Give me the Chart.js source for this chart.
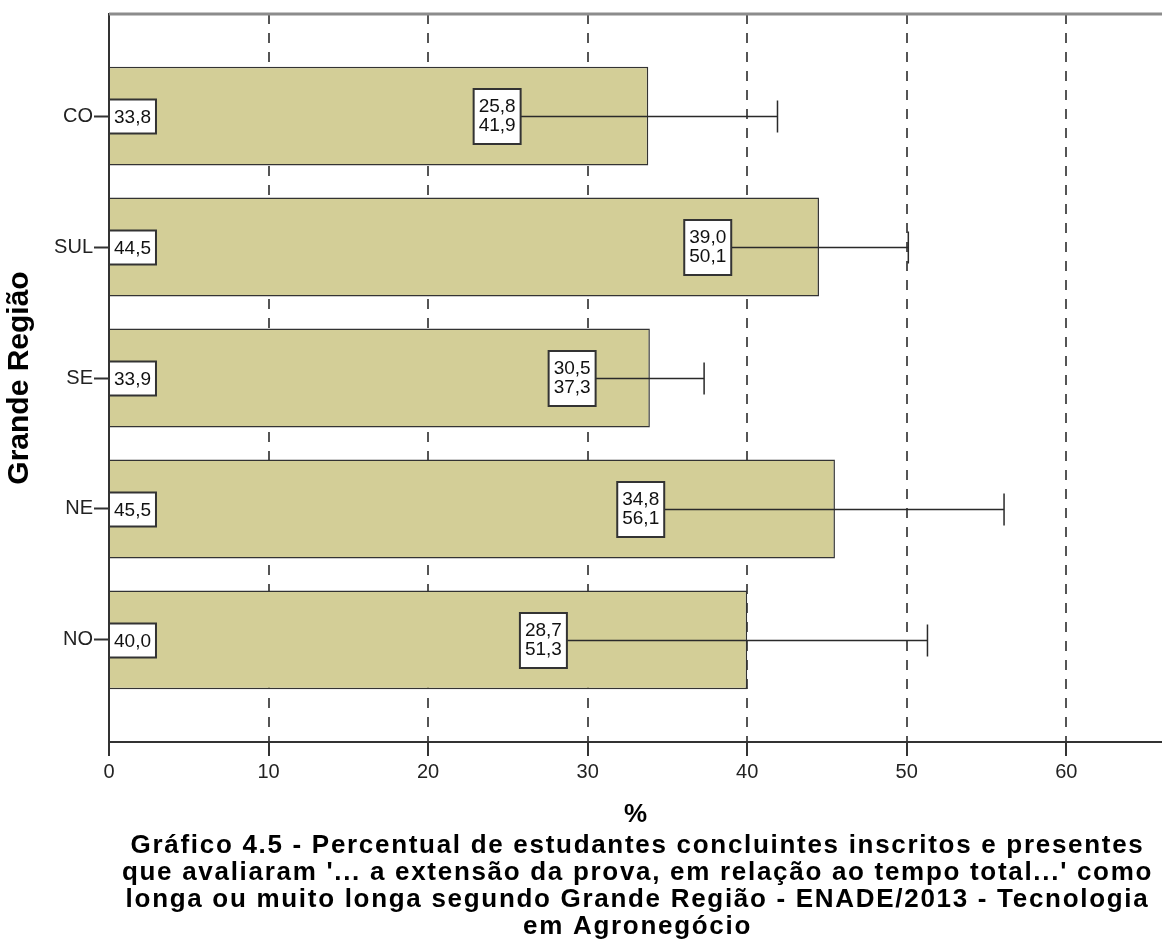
<!DOCTYPE html>
<html>
<head>
<meta charset="utf-8">
<script src="https://cdn.jsdelivr.net/npm/chart.js@4.4.1/dist/chart.umd.min.js"></script>
<style>
  body { margin: 0; background: #fff; }
</style>
</head>
<body>
<canvas id="regiaoChart" width="1162" height="940"></canvas>
<script>
// Dados do gráfico
var regioes = ["CO", "SUL", "SE", "NE", "NO"];
var percentual = [33.8, 44.5, 33.9, 45.5, 40.0];
var icInferior = [25.8, 39.0, 30.5, 34.8, 28.7];
var icSuperior = [41.9, 50.1, 37.3, 56.1, 51.3];
var ticksX = [0, 10, 20, 30, 40, 50, 60];

var legenda = [
  "Gráfico 4.5 - Percentual de estudantes concluintes inscritos e presentes",
  "que avaliaram '... a extensão da prova, em relação ao tempo total...' como",
  "longa ou muito longa segundo Grande Região - ENADE/2013 - Tecnologia",
  "em Agronegócio"
];

var fonte = '"Liberation Sans", Arial, sans-serif';

function fmt(v) {
  return v.toFixed(1).replace('.', ',');
}

// caixas com valores, barras de erro e legenda embaixo
var caixasPlugin = {
  id: 'caixas',
  afterDatasetsDraw: function (chart) {
    var ctx = chart.ctx, x = chart.scales.x, y = chart.scales.y, area = chart.chartArea;
    ctx.save();
    // borda de cima
    ctx.strokeStyle = '#8c8c8c';
    ctx.lineWidth = 3;
    ctx.beginPath();
    ctx.moveTo(area.left, area.top);
    ctx.lineTo(area.right, area.top);
    ctx.stroke();

    ctx.font = '19px ' + fonte;
    ctx.textAlign = 'center';
    ctx.textBaseline = 'middle';
    regioes.forEach(function (r, i) {
      var yc = Math.round(y.getPixelForValue(i)) + 0.5;
      var x0 = x.getPixelForValue(0);
      var xl = x.getPixelForValue(icInferior[i]);
      var xh = x.getPixelForValue(icSuperior[i]);

      // barra de erro
      ctx.strokeStyle = '#2a2a2a';
      ctx.lineWidth = 1.5;
      ctx.beginPath();
      ctx.moveTo(xl, yc);
      ctx.lineTo(xh, yc);
      ctx.moveTo(xh, yc - 16);
      ctx.lineTo(xh, yc + 16);
      ctx.stroke();

      // caixa do intervalo
      var t1 = fmt(icInferior[i]), t2 = fmt(icSuperior[i]);
      var w = Math.max(ctx.measureText(t1).width, ctx.measureText(t2).width) + 10;
      var h = 55;
      ctx.fillStyle = '#fff';
      ctx.fillRect(xl - w, yc - h / 2, w, h);
      ctx.strokeStyle = '#333';
      ctx.lineWidth = 2;
      ctx.strokeRect(xl - w, yc - h / 2, w, h);
      ctx.fillStyle = '#111';
      ctx.fillText(t1, xl - w / 2, yc - 9.5);
      ctx.fillText(t2, xl - w / 2, yc + 9.5);

      // caixa do valor
      var tv = fmt(percentual[i]);
      var wv = ctx.measureText(tv).width + 10;
      var hv = 34;
      ctx.fillStyle = '#fff';
      ctx.fillRect(x0, yc - hv / 2, wv, hv);
      ctx.strokeRect(x0, yc - hv / 2, wv, hv);
      ctx.fillStyle = '#111';
      ctx.fillText(tv, x0 + wv / 2, yc + 1);
    });
    ctx.restore();
  },
  afterDraw: function (chart) {
    var ctx = chart.ctx, area = chart.chartArea, x = chart.scales.x;
    ctx.save();
    ctx.font = 'bold 26px ' + fonte;
    if ('letterSpacing' in ctx) ctx.letterSpacing = '1.7px';
    ctx.fillStyle = '#000';
    ctx.textAlign = 'center';
    ctx.textBaseline = 'middle';
    var cx = (area.left + area.right) / 2 + 2;
    legenda.forEach(function (linha, i) {
      ctx.fillText(linha, cx, x.bottom + 13.5 + i * 27);
    });
    ctx.restore();
  }
};

var regiaoChart = new Chart(document.getElementById('regiaoChart'), {
  type: 'bar',
  data: {
    datasets: [{
      data: regioes.map(function (r, i) { return { x: percentual[i], y: i }; }),
      backgroundColor: '#D3CE97',
      borderColor: '#333',
      borderWidth: 1.5,
      barPercentage: 0.756,
      categoryPercentage: 1
    }]
  },
  options: {
    indexAxis: 'y',
    responsive: false,
    animation: false,
    layout: { padding: { top: 14, right: 0, bottom: 108, left: 0 } },
    plugins: {
      legend: { display: false },
      tooltip: { enabled: false },
      title: { display: false }
    },
    scales: {
      x: {
        type: 'linear',
        min: 0,
        max: 66,
        afterBuildTicks: function (s) {
          s.ticks = ticksX.map(function (v) { return { value: v }; });
        },
        ticks: { font: { family: fonte, size: 20 }, color: '#222', padding: 4, maxRotation: 0 },
        grid: {
          color: function (c) { return c.tick && c.tick.value === 0 ? 'rgba(0,0,0,0)' : '#555'; },
          lineWidth: 2,
          tickLength: 14,
          tickColor: '#333',
          tickWidth: 2
        },
        border: { color: '#333', width: 2, dash: [10, 9] },
        title: {
          display: true,
          text: '%',
          color: '#000',
          font: { family: fonte, size: 26, weight: 'bold' },
          padding: { top: 0, bottom: 2 }
        },
        afterFit: function (s) { s.height = 90; }
      },
      y: {
        type: 'linear',
        reverse: true,
        offset: false,
        min: -0.78,
        max: 4.78,
        afterBuildTicks: function (s) {
          s.ticks = regioes.map(function (r, i) { return { value: i }; });
        },
        ticks: {
          font: { family: fonte, size: 20 },
          color: '#222',
          padding: 1,
          autoSkip: false,
          callback: function (v) { return regioes[v]; }
        },
        grid: { offset: false, drawOnChartArea: false, tickLength: 15, tickColor: '#333', tickWidth: 2 },
        border: { color: '#333', width: 2 },
        title: {
          display: true,
          text: 'Grande Região',
          color: '#000',
          font: { family: fonte, size: 30, weight: 'bold' },
          padding: { top: 2, bottom: 0 }
        },
        afterFit: function (s) { s.width = 109; }
      }
    }
  },
  plugins: [caixasPlugin]
});
</script>
</body>
</html>
